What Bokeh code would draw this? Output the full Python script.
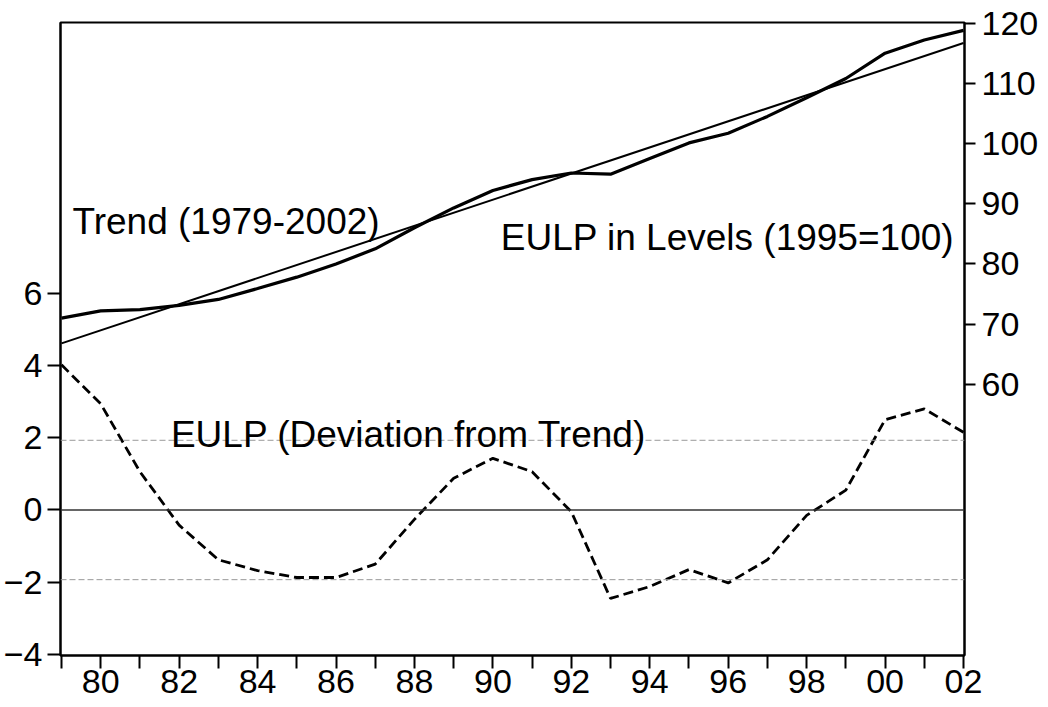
from bokeh.plotting import figure
from bokeh.models import Range1d, LinearAxis, FixedTicker, Label, Span
from bokeh.embed import file_html
from bokeh.resources import INLINE

# ---- data ----
years = list(range(1979, 2003))
deviation = [4.02, 2.94, 1.06, -0.42, -1.38, -1.68, -1.87, -1.87, -1.50, -0.26,
             0.88, 1.43, 1.06, -0.05, -2.45, -2.12, -1.65, -2.02, -1.38, -0.15,
             0.55, 2.50, 2.80, 2.15]
levels = [71.0, 72.2, 72.4, 73.1, 74.1, 75.9, 77.8, 80.0, 82.5, 86.0,
          89.3, 92.2, 94.0, 95.1, 94.9, 97.5, 100.1, 101.7, 104.5, 107.6,
          110.8, 115.0, 117.2, 118.8]
trend_years = [1979, 2002]
trend_levels = [66.8, 116.7]
band_levels = [1.93, -1.93]
left_ticks = [-4, -2, 0, 2, 4, 6]
right_ticks = [60, 70, 80, 90, 100, 110, 120]
x_label_years = [y for y in years if y % 2 == 0]

FONT = "Liberation Sans"
TICK_FS = "34px"
ANN_FS = "37px"

p = figure(frame_width=904, frame_height=633,
           x_range=Range1d(1978.975, 2002.025), y_range=Range1d(-4.03, 13.5),
           output_backend="svg", toolbar_location=None,
           min_border_left=50, min_border_right=78, min_border_top=22, min_border_bottom=50)
p.extra_y_ranges = {"lev": Range1d(14.95, 120.1)}
p.xgrid.visible = False
p.ygrid.visible = False
p.outline_line_color = "black"
p.outline_line_width = 2
p.background_fill_color = "white"
p.border_fill_color = "white"

def style_axis(ax, tick_out):
    ax.axis_line_color = "black"
    ax.axis_line_width = 2
    ax.major_tick_line_color = "black"
    ax.major_tick_line_width = 2
    ax.major_tick_in = 0
    ax.major_tick_out = tick_out
    ax.minor_tick_in = 0
    ax.minor_tick_out = 0
    ax.major_label_text_font = FONT
    ax.major_label_text_font_size = TICK_FS
    ax.major_label_text_color = "black"

xa = p.xaxis[0]
xa.ticker = FixedTicker(ticks=years)
xa.major_label_overrides = {y: (f"{y % 100:02d}" if y in x_label_years else "") for y in years}
style_axis(xa, 13)
xa.major_label_standoff = 1

ya = p.yaxis[0]
ya.ticker = FixedTicker(ticks=left_ticks)
style_axis(ya, 13)
ya.major_label_standoff = 5

ra = LinearAxis(y_range_name="lev", ticker=FixedTicker(ticks=right_ticks))
style_axis(ra, 11)
ra.major_label_standoff = 6
p.add_layout(ra, "right")

# reference lines
p.add_layout(Span(location=0, dimension="width", line_color="#333333", line_width=1.5))
for b in band_levels:
    p.add_layout(Span(location=b, dimension="width", line_color="#9a9a9a",
                      line_width=1, line_dash="6 3"))

# series
p.line(years, deviation, line_color="black", line_width=2.8, line_dash="10 5")
p.line(trend_years, trend_levels, y_range_name="lev", line_color="black", line_width=2)
p.line(years, levels, y_range_name="lev", line_color="black", line_width=3.2)

# annotations
for txt, x, y in [("Trend (1979-2002)", 1979.28, 8.0),
                  ("EULP in Levels (1995=100)", 1990.2, 7.54),
                  ("EULP (Deviation from Trend)", 1981.79, 2.1)]:
    p.add_layout(Label(x=x, y=y, text=txt, text_font=FONT, text_font_size=ANN_FS,
                       text_color="black", text_baseline="alphabetic", text_align="left"))

open("out.html", "w").write(file_html(p, INLINE))
